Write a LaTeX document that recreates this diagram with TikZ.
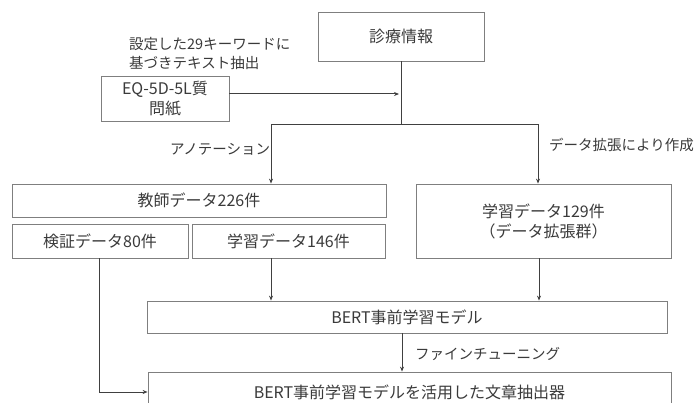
\documentclass[tikz,border=0pt]{standalone}
\usepackage{fontspec}
\setmainfont{Noto Sans CJK JP}
\usetikzlibrary{arrows.meta}
\definecolor{boxgray}{HTML}{7F7F7F}
\definecolor{linegray}{HTML}{404040}
\definecolor{txt}{HTML}{3A3A3A}
\tikzset{
  box/.style={draw=boxgray, line width=0.8pt, text=txt, inner sep=0pt, align=center,
    font=\fontsize{16}{20}\selectfont},
  lbl/.style={text=txt, inner sep=0pt, font=\fontsize{14.5}{19}\selectfont},
  arr/.style={draw=linegray, line width=1pt, -{Stealth[length=5pt,width=4pt]}},
  ln/.style={draw=linegray, line width=1pt},
}
\begin{document}
\begin{tikzpicture}[x=1pt,y=-1pt]
\useasboundingbox (0,0) rectangle (698,403);
% boxes
\node[box, minimum width=166, minimum height=49] (info) at (401,36.5) {診療情報};
\node[box, minimum width=128, minimum height=45] (eq) at (165,98.5) {EQ-5D-5L質\\問紙};
\node[box, minimum width=374, minimum height=33] (teacher) at (199,200.5) {教師データ226件};
\node[box, minimum width=176, minimum height=34] (val) at (100,241) {検証データ80件};
\node[box, minimum width=193, minimum height=34] (tr146) at (288.5,241) {学習データ146件};
\node[box, minimum width=255, minimum height=74] (aug) at (543.5,221) {学習データ129件\\（データ拡張群）};
\node[box, minimum width=520, minimum height=32] (bert) at (407,317) {BERT事前学習モデル};
\node[box, minimum width=523, minimum height=40] (ext) at (409.5,392) {BERT事前学習モデルを活用した文章抽出器};
% labels
\node[lbl, align=left, anchor=west] (kw) at (129,53.5) {設定した29キーワードに\\基づきテキスト抽出};
\node[lbl, anchor=west] (anno) at (170,149) {アノテーション};
\node[lbl, anchor=west] (daug) at (549,145) {データ拡張により作成};
\node[lbl, anchor=west] (ft) at (415,354) {ファインチューニング};
% coordinates
\coordinate (j) at (401,125);
\coordinate (jl) at (271,125);
\coordinate (jr) at (538,125);
\coordinate (a146) at (271,0);
\coordinate (a129) at (539,0);
\coordinate (av) at (99,0);
\coordinate (ab) at (402,0);
\coordinate (eqy) at (0,94);
% connectors
\draw[ln] (info.south -| j) -- (j);
\draw[arr] (eq.east |- eqy) -- ([xshift=-2pt]j |- eqy);
\draw[arr] (j) -- (jl) -- (jl |- teacher.north);
\draw[arr] (j) -- (jr) -- (jr |- aug.north);
\draw[arr] (tr146.south -| a146) -- (bert.north -| a146);
\draw[arr] (aug.south -| a129) -- (bert.north -| a129);
\draw[arr] (bert.south -| ab) -- (ext.north -| ab);
\draw[arr] (val.south -| av) |- (ext.west);
\end{tikzpicture}
\end{document}
